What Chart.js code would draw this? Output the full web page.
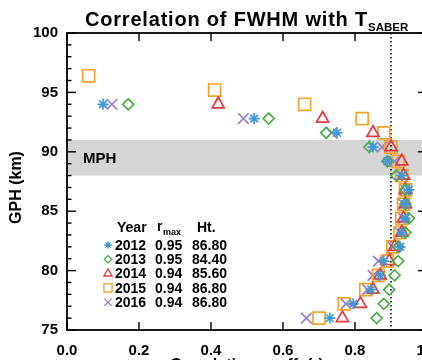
<!DOCTYPE html>
<html>
<head>
<meta charset="utf-8">
<script src="https://cdn.jsdelivr.net/npm/chart.js@4/dist/chart.umd.min.js"></script>
<style>
  html, body { margin: 0; padding: 0; background: #fff; overflow: hidden; width: 422px; height: 360px; }
  #wrap { position: absolute; left: 0; top: 0; width: 440px; height: 380px; }
</style>
</head>
<body>
<div id="wrap"><canvas id="c" width="440" height="380"></canvas></div>
<script>
// GPH levels (km), top to bottom
const heights = [96.4, 95.2, 94.0, 92.8, 91.6, 90.4, 89.2, 88.0, 86.8, 85.6, 84.4, 83.2, 82.0, 80.8, 79.6, 78.4, 77.2, 76.0];

// correlation coefficient per year (null = no point)
const r2012 = [null, null, 0.10, 0.52, 0.75, 0.85, 0.89, 0.93, 0.95, 0.94, 0.94, 0.93, 0.925, 0.88, 0.87, 0.845, 0.795, 0.73];
const r2013 = [null, null, 0.17, 0.56, 0.72, 0.84, 0.89, 0.915, 0.94, 0.94, 0.95, 0.94, 0.92, 0.92, 0.91, 0.895, 0.88, 0.86];
const r2014 = [null, null, 0.42, 0.71, 0.85, 0.90, 0.93, 0.935, 0.94, 0.94, 0.935, 0.93, 0.91, 0.895, 0.87, 0.85, 0.815, 0.765];
const r2015 = [0.06, 0.41, 0.66, 0.82, 0.88, 0.90, 0.92, 0.93, 0.94, 0.935, 0.93, 0.925, 0.905, 0.89, 0.865, 0.83, 0.77, 0.70];
const r2016 = [null, null, 0.125, 0.49, 0.735, 0.875, 0.91, 0.93, 0.94, 0.935, 0.935, 0.925, 0.905, 0.865, 0.85, 0.835, 0.775, 0.665];

const years  = ['2012', '2013', '2014', '2015', '2016'];
const rMax   = ['0.95', '0.95', '0.94', '0.94', '0.94'];
const htMax  = ['86.80', '84.40', '85.60', '86.80', '86.80'];

const xTicks = [0, 0.2, 0.4, 0.6, 0.8, 1.0];
const yTicks = [75, 80, 85, 90, 95, 100];
const mphBand = [88, 91];
const rThreshold = 0.9;

const FONT = '"Liberation Sans", Arial, Helvetica, sans-serif';

const _series = [
  { data: r2012, color: '#3d9ad6', style: 'star',     radius: 5.5 },
  { data: r2013, color: '#4fae48', style: 'rectRot',  radius: 5.5 },
  { data: r2014, color: '#e63a3c', style: 'triangle', radius: 7 },
  { data: r2015, color: '#f4a42a', style: 'rect',     radius: 8.5 },
  { data: r2016, color: '#9a7fcf', style: 'crossRot', radius: 7.5 },
];

const datasets = _series.map((s, i) => ({
  label: years[i],
  data: heights.map((h, k) => s.data[k] == null ? null : { x: s.data[k], y: h }).filter(p => p),
  pointStyle: s.style,
  pointRadius: s.radius,
  pointHoverRadius: s.radius,
  pointBorderColor: s.color,
  pointBackgroundColor: 'rgba(0,0,0,0)',
  pointBorderWidth: 1.7,
  showLine: false,
}));

function _tick(ctx, x0, y0, x1, y1) {
  ctx.beginPath(); ctx.moveTo(x0, y0); ctx.lineTo(x1, y1); ctx.stroke();
}

const framePlugin = {
  id: 'frame',
  beforeDatasetsDraw(chart) {
    const { ctx, chartArea: a, scales: { x, y } } = chart;
    ctx.save();
    // MPH band
    const yt = y.getPixelForValue(mphBand[1]), yb = y.getPixelForValue(mphBand[0]);
    ctx.fillStyle = '#d5d5d5';
    ctx.fillRect(a.left, yt, a.right - a.left, yb - yt);
    ctx.fillStyle = '#000';
    ctx.font = 'bold 15px ' + FONT;
    ctx.textBaseline = 'middle';
    ctx.fillText('MPH', a.left + 16, (yt + yb) / 2 + 1);
    // r = 0.9 dotted line
    const xd = x.getPixelForValue(rThreshold);
    ctx.strokeStyle = '#000';
    ctx.lineWidth = 1.5;
    ctx.setLineDash([1.5, 2.5]);
    _tick(ctx, xd, a.top, xd, a.bottom);
    ctx.restore();
  },
  afterDraw(chart) {
    const { ctx, chartArea: a, scales: { x, y } } = chart;
    ctx.save();
    ctx.strokeStyle = '#000';
    ctx.lineWidth = 1.8;
    ctx.strokeRect(a.left, a.top, a.right - a.left, a.bottom - a.top);

    // ticks, pointing inward
    ctx.lineWidth = 1.4;
    for (let v = 75; v <= 100; v++) {
      const py = y.getPixelForValue(v);
      const len = v % 5 === 0 ? 9 : 4.5;
      _tick(ctx, a.left, py, a.left + len, py);
      _tick(ctx, a.right, py, a.right - len, py);
    }
    xTicks.forEach(v => {
      const px = x.getPixelForValue(v);
      _tick(ctx, px, a.bottom, px, a.bottom - 8);
      _tick(ctx, px, a.top, px, a.top + 8);
    });

    // title
    ctx.fillStyle = '#000';
    ctx.textBaseline = 'alphabetic';
    ctx.textAlign = 'left';
    ctx.font = 'bold 20px ' + FONT;
    ctx.letterSpacing = '0.8px';
    const main = 'Correlation of FWHM with T';
    ctx.fillText(main, 85, 26);
    const w = ctx.measureText(main).width;
    ctx.font = 'bold 11.5px ' + FONT;
    ctx.letterSpacing = '0px';
    ctx.fillText('SABER', 85 + w, 31);

    // axis titles
    ctx.font = 'bold 16px ' + FONT;
    ctx.textAlign = 'center';
    ctx.fillText('Correlation coeff. (r)', (a.left + a.right) / 2, 370);
    ctx.save();
    ctx.translate(21, (a.top + a.bottom) / 2 + 6);
    ctx.rotate(-Math.PI / 2);
    ctx.fillText('GPH (km)', 0, 0);
    ctx.restore();

    // legend table
    ctx.textAlign = 'left';
    ctx.textBaseline = 'middle';
    ctx.font = 'bold 14px ' + FONT;
    ctx.fillText('Year', 117, 228);
    ctx.fillText('r', 157, 227);
    ctx.fillText('Ht.', 197, 228);
    ctx.font = 'bold 9px ' + FONT;
    ctx.fillText('max', 163, 233);
    _series.forEach((s, i) => {
      const ly = 245 + i * 14.3;
      ctx.strokeStyle = s.color;
      ctx.fillStyle = 'rgba(0,0,0,0)';
      ctx.lineWidth = 1.3;
      Chart.helpers.drawPoint(ctx, { pointStyle: s.style, radius: s.radius * 0.68, rotation: 0, borderWidth: 1.3 }, 108, ly);
      ctx.fillStyle = '#000';
      ctx.font = 'bold 14px ' + FONT;
      ctx.fillText(years[i], 115, ly + 1);
      ctx.fillText(rMax[i], 155, ly + 1);
      ctx.fillText(htMax[i], 192, ly + 1);
    });
    ctx.restore();
  }
};

new Chart(document.getElementById('c'), {
  type: 'scatter',
  data: { datasets },
  options: {
    responsive: false,
    animation: false,
    events: [],
    layout: { padding: { left: 0, top: 33, right: 13, bottom: 0 } },
    plugins: { legend: { display: false }, tooltip: { enabled: false }, title: { display: false } },
    scales: {
      x: {
        type: 'linear', min: 0, max: 1,
        afterBuildTicks: s => { s.ticks = xTicks.map(v => ({ value: v })); },
        afterFit: s => { s.height = 50; s.paddingLeft = 0; s.paddingRight = 0; },
        grid: { display: false, drawTicks: false },
        border: { display: false },
        ticks: { color: '#000', padding: 12, font: { family: FONT, size: 15, weight: 'bold' }, callback: v => v.toFixed(1) },
      },
      y: {
        type: 'linear', min: 75, max: 100,
        afterBuildTicks: s => { s.ticks = yTicks.map(v => ({ value: v })); },
        afterFit: s => { s.width = 67; s.paddingTop = 0; s.paddingBottom = 0; },
        grid: { display: false, drawTicks: false },
        border: { display: false },
        ticks: { color: '#000', padding: 9, font: { family: FONT, size: 15, weight: 'bold' } },
      },
    },
  },
  plugins: [framePlugin],
});
</script>
</body>
</html>
